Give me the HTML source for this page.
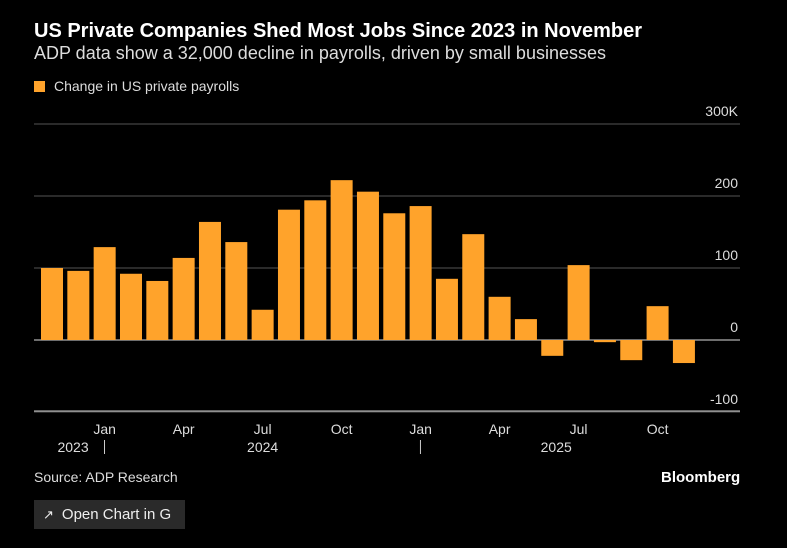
<!DOCTYPE html>
<html><head><meta charset="utf-8"><style>
body{margin:0;background:#000;width:787px;height:548px;overflow:hidden;font-family:"Liberation Sans",sans-serif;color:#fff;position:relative}
.t{position:absolute;white-space:nowrap}
</style></head><body>
<div class="t" style="left:34px;top:20px;font-size:20px;font-weight:bold">US Private Companies Shed Most Jobs Since 2023 in November</div>
<div class="t" style="left:34px;top:43px;font-size:18px;color:#ddd">ADP data show a 32,000 decline in payrolls, driven by small businesses</div>
<div class="t" style="left:34px;top:78px;font-size:14px;color:#ddd"><span style="display:inline-block;width:11px;height:11px;background:#ffa32b;margin-right:9px;vertical-align:-1px"></span>Change in US private payrolls</div>
<svg id="c" width="787" height="548" style="position:absolute;left:0;top:0"></svg>
<div class="t" style="left:34px;top:469px;font-size:14px;color:#ddd">Source: ADP Research</div>
<div class="t" style="left:661px;top:469px;font-size:15px;font-weight:bold">Bloomberg</div>
<div class="t" style="left:34px;top:500px;width:151px;height:29px;background:#2a2a2a;font-size:15px;line-height:29px;color:#eee"><span style="margin-left:9px;margin-right:8px;font-size:13px">&#x2197;</span>Open Chart in G</div>
<script>
const values=[100,96,129,92,82,114,164,136,42,181,194,222,206,176,186,85,147,60,29,-22,104,-3,-28,47,-32];
const yTicks=[300,200,100,0,-100];
const yTickLabels=["300K","200","100","0","-100"];
const monthLabels=["Jan","Apr","Jul","Oct","Jan","Apr","Jul","Oct"];
const monthIdx=[2,5,8,11,14,17,20,23];
const yearLabels=["2023","2024","2025"];
const yearPos=[0.8,8.0,19.15];
const sepIdx=[1.5,13.5];
const svg=document.getElementById('c');const NS='http://www.w3.org/2000/svg';
const y=v=>340-v*0.72;const x=i=>52+i*26.33;
function mk(t,a){const e=document.createElementNS(NS,t);for(const k in a)e.setAttribute(k,a[k]);svg.appendChild(e);return e;}
yTicks.forEach((v,i)=>{
 const l=mk('line',{x1:34,x2:740,y1:y(v),y2:y(v),stroke:v===0?'#ddd':'#555','stroke-width':1});
 
 const t=mk('text',{x:738,y:y(v)-8,'text-anchor':'end','font-size':14,fill:'#ddd'});t.textContent=yTickLabels[i];
 
});
const ax=mk('line',{x1:34,x2:740,y1:411,y2:411,stroke:'#ccc'});

values.forEach((v,i)=>{
 const b=mk('rect',{x:x(i)-11,width:22,y:Math.min(y(v),y(0)),height:Math.abs(y(v)-y(0)),fill:'#ffa32b'});
 
});
monthLabels.forEach((m,i)=>{
 const t=mk('text',{x:x(monthIdx[i]),y:434,'text-anchor':'middle','font-size':14,fill:'#ddd'});t.textContent=m;
 
});
yearLabels.forEach((m,i)=>{
 const t=mk('text',{x:x(yearPos[i]),y:452,'text-anchor':'middle','font-size':14,fill:'#ddd'});t.textContent=m;
 
});
sepIdx.forEach(s=>{
 const l=mk('line',{x1:x(s)+13,x2:x(s)+13,y1:440,y2:454,stroke:'#ccc'});
 
});
</script>
</body></html>
